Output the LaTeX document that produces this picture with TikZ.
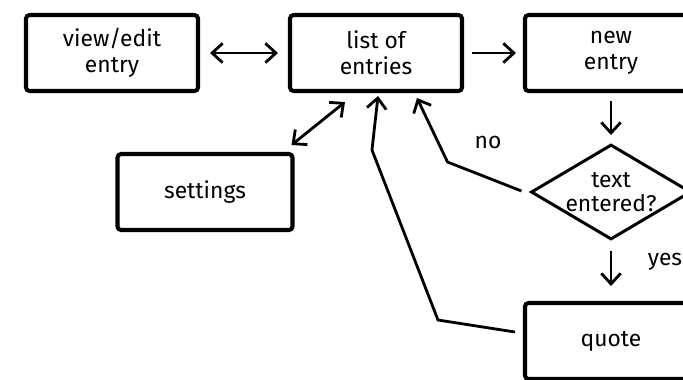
\documentclass[tikz,border=0pt]{standalone}
\usepackage{fontspec}
\setmainfont{Fira Sans}
\usetikzlibrary{calc,positioning,shapes.geometric,arrows.meta}

\tikzset{
  box/.style={draw, line width=2.3pt, rounded corners=2pt, align=center,
    minimum width=3.44cm, minimum height=1.52cm, font=\fontsize{13}{15}\selectfont},
  decide/.style={diamond, draw, line width=1.7pt, align=center, inner sep=0pt,
    aspect=1.68, minimum width=3.2cm, minimum height=1.9cm, font=\fontsize{13}{14}\selectfont},
  flow/.style={line width=1.6pt},
  tag/.style={font=\fontsize{13}{15}\selectfont}
}

\begin{document}
\begin{tikzpicture}[node distance=1cm,>={Straight Barb[length=6pt,width=11pt]}]

  \useasboundingbox (0,0) rectangle (13.66,-7.58);
  \clip (0,0) rectangle (13.66,-7.58);

  \node[box] (list) at (7.52,-1.06) {list of\\entries};
  \node[box, node distance=5.28cm] (view) [left of=list] {view/edit\\entry};
  \node[box, node distance=4.7cm] (new) [right of=list] {new\\entry};
  \node[decide, node distance=2.78cm] (entered) [below of=new] {text\\entered?};
  \node[box, node distance=2.98cm] (quote) [below of=entered] {quote};
  \node[box, minimum width=3.5cm] (settings) at (4.10,-3.84) {settings};

  \node[tag] (no) at (9.76,-2.84) {no};
  \node[tag] (yes) at (13.3,-5.24) {yes};

  % main row
  \draw [flow, <->, shorten <=0.2cm, shorten >=0.2cm] (view.east) -- (list.west);
  \draw [flow, ->, shorten <=0.16cm, shorten >=0.14cm] (list.east) -- (new.west);
  \draw [flow, <->] ($(list.south)+(-0.62,-0.18)$) -- ($(settings.north east)+(-0.06,0.14)$);

  % decision
  \draw [flow, ->, shorten <=0.16cm, shorten >=0.16cm] (new.south) -- (entered.north);
  \draw [flow, ->, shorten <=0.2cm, shorten >=0.3cm] (entered.south) -- (quote.north);
  \draw [flow, ->] ($(entered.west)+(-0.16,0.02)$) -- ++(-1.48,0.58) -- ($(list.south)+(0.82,-0.1)$);
  \draw [flow, ->] ($(quote.west)+(-0.16,0.18)$) -- ++(-1.54,0.24) -- ++(-1.32,3.4) -- ($(list.south)+(0.04,-0.06)$);
\end{tikzpicture}
\end{document}
